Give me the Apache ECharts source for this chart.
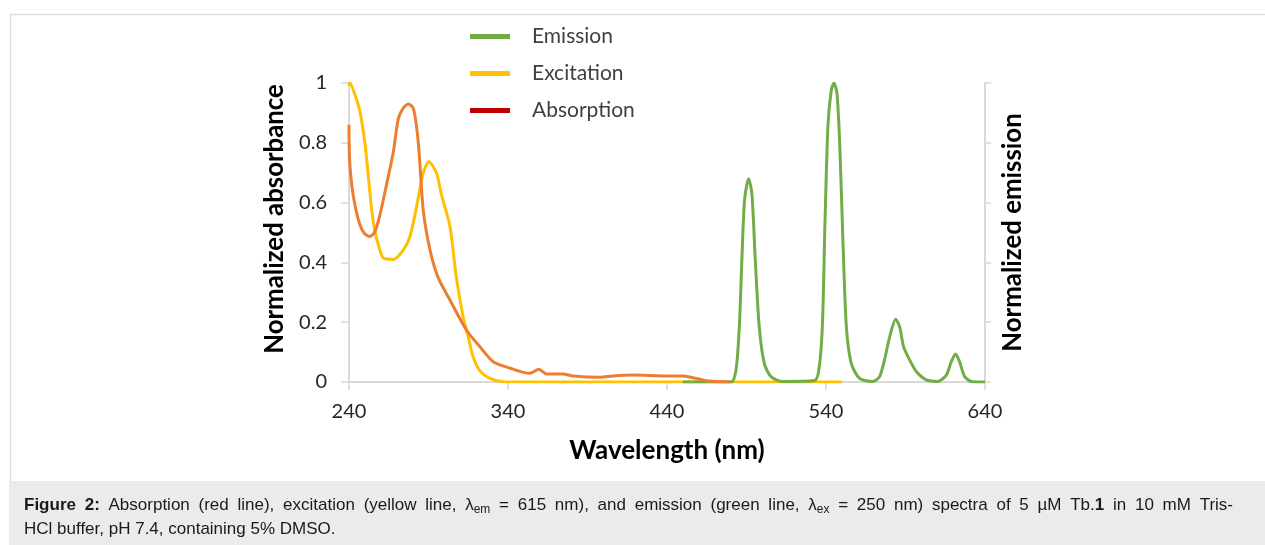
<!DOCTYPE html>
<html>
<head>
<meta charset="utf-8">
<script src="https://cdn.jsdelivr.net/npm/echarts@6/dist/echarts.min.js"></script>
<style>
html,body{margin:0;padding:0;background:#fff;}
#chart{width:1265px;height:545px;}
</style>
</head>
<body>
<div id="chart"></div>
<script>
// ---- Data ----
var xTicks = [240, 340, 440, 540, 640];
var yTicks = [0, 0.2, 0.4, 0.6, 0.8, 1];

var absWl  = [240, 240.3, 241.7, 243.8, 246.9, 250, 253.2, 256.3, 259.5, 263.6, 267.9, 271, 274, 277.3, 280.5, 283.6, 286.7, 291, 296, 303.4, 313.8, 322.3, 330.7, 341.4, 353.6, 359.5, 364, 374.5, 380.8, 397.6, 406, 418.6, 439.5, 450, 458.4, 466.7, 479.3];
var absVal = [0.86, 0.75, 0.66, 0.59, 0.525, 0.495, 0.487, 0.503, 0.56, 0.66, 0.77, 0.88, 0.915, 0.93, 0.915, 0.80, 0.575, 0.44, 0.35, 0.275, 0.174, 0.118, 0.068, 0.046, 0.029, 0.043, 0.027, 0.027, 0.02, 0.016, 0.02, 0.023, 0.02, 0.02, 0.012, 0.003, 0];

var excWl  = [240, 240.6, 243.8, 246.9, 250, 252.1, 254.2, 256.3, 258.5, 261.5, 268, 274, 278.3, 282.5, 286.7, 290.2, 295, 298, 303.5, 307.5, 311.7, 315, 318, 322, 328.5, 337, 400, 480, 550];
var excVal = [0.99, 1.0, 0.96, 0.904, 0.80, 0.69, 0.58, 0.503, 0.458, 0.415, 0.41, 0.44, 0.486, 0.586, 0.70, 0.737, 0.70, 0.63, 0.52, 0.35, 0.22, 0.15, 0.085, 0.04, 0.012, 0.001, 0, 0, 0];

var emWl  = [450, 480.3, 483.4, 485.5, 487.1, 488.8, 491.3, 493.4, 495.5, 498, 501.2, 505.4, 512.7, 532.8, 535.5, 537.7, 539.3, 541.2, 543.3, 545, 546.9, 548.6, 550.7, 552.8, 555.9, 561.1, 569.5, 573.7, 576.8, 580, 583.8, 586.3, 588.8, 592.6, 596.8, 603.1, 610.4, 615.7, 618.8, 621.5, 624, 627.2, 631.3, 640];
var emVal = [0, 0, 0.04, 0.185, 0.41, 0.61, 0.68, 0.63, 0.41, 0.185, 0.062, 0.018, 0.002, 0.005, 0.04, 0.185, 0.52, 0.855, 0.976, 1.0, 0.965, 0.80, 0.464, 0.185, 0.062, 0.012, 0.002, 0.018, 0.074, 0.15, 0.21, 0.185, 0.118, 0.074, 0.035, 0.007, 0.002, 0.023, 0.068, 0.094, 0.068, 0.018, 0.002, 0];

var legendNames = ['Emission', 'Excitation', 'Absorption'];

var captionWords1 = ['{b|Figure}', '{b|2:}', 'Absorption', '(red', 'line),', 'excitation', '(yellow', 'line,', 'λ{s|em}', '=', '615', 'nm),', 'and', 'emission', '(green', 'line,', 'λ{s|ex}', '=', '250', 'nm)', 'spectra', 'of', '5', 'µM', 'Tb.{b|1}', 'in', '10', 'mM', 'Tris-'];
var captionLine2 = 'HCl buffer, pH 7.4, containing 5% DMSO.';

function pairs(xs, ys) { return xs.map(function (x, i) { return [x, ys[i]]; }); }

var FONT = 'Lato, "Open Sans", sans-serif';
var CAP_FAMILY = '"Liberation Sans", Arial, sans-serif';
var CAP_SIZE = 17;
var SUB_SIZE = 12;
var AXIS_GRAY = '#D9D9D9';

// justify first caption line: measure words, spread spaces
var ctx = document.createElement('canvas').getContext('2d');
function fontFor(tag) {
  if (tag === 'b') return 'bold ' + CAP_SIZE + 'px ' + CAP_FAMILY;
  if (tag === 's') return SUB_SIZE + 'px ' + CAP_FAMILY;
  return CAP_SIZE + 'px ' + CAP_FAMILY;
}
function measureWord(w) {
  var re = /\{(\w)\|([^}]*)\}|([^{]+)/g, m, total = 0;
  while ((m = re.exec(w))) {
    ctx.font = fontFor(m[1] ? m[1] : 'n');
    total += ctx.measureText(m[1] ? m[2] : m[3]).width;
  }
  return total;
}
var wordsW = captionWords1.reduce(function (s, w) { return s + measureWord(w); }, 0);
var targetW = 1209;
var spaceW = Math.max(3, (targetW - wordsW) / (captionWords1.length - 1));

var chart = echarts.init(document.getElementById('chart'), null, { renderer: 'canvas' });

var option = {
  backgroundColor: '#fff',
  animation: false,
  grid: { left: 349, right: 280, top: 83, bottom: 163, containLabel: false },
  legend: {
    orient: 'vertical',
    left: 465,
    top: 21,
    itemWidth: 40,
    itemHeight: 5,
    itemGap: 16,
    icon: 'rect',
    textStyle: { fontFamily: FONT, fontSize: 21, color: '#404040', padding: [0, 0, 0, 17] },
    data: [
      { name: legendNames[0], itemStyle: { color: '#70AD47' } },
      { name: legendNames[1], itemStyle: { color: '#FFC000' } },
      { name: legendNames[2], itemStyle: { color: '#C00000' } }
    ]
  },
  xAxis: {
    type: 'value',
    min: xTicks[0], max: xTicks[xTicks.length - 1], interval: 100,
    splitLine: { show: false },
    axisLine: { show: true, lineStyle: { color: AXIS_GRAY, width: 2 } },
    axisTick: { show: true, length: 8, lineStyle: { color: AXIS_GRAY, width: 1.5 } },
    axisLabel: { fontFamily: FONT, fontSize: 20, color: '#262626', margin: 20 },
    name: 'Wavelength (nm)',
    nameLocation: 'middle',
    nameGap: 56,
    nameTextStyle: { fontFamily: FONT, fontSize: 26, fontWeight: 'bold', color: '#000' }
  },
  yAxis: [
    {
      type: 'value',
      min: 0, max: 1, interval: 0.2,
      position: 'left',
      splitLine: { show: false },
      axisLine: { show: true, lineStyle: { color: AXIS_GRAY, width: 2 } },
      axisTick: { show: true, length: 8, lineStyle: { color: AXIS_GRAY, width: 1.5 } },
      axisLabel: {
        fontFamily: FONT, fontSize: 20, color: '#262626', margin: 22,
        formatter: function (v) { return String(Math.round(v * 10) / 10); }
      },
      name: 'Normalized absorbance',
      nameLocation: 'middle',
      nameGap: 61,
      nameRotate: 90,
      nameTextStyle: { fontFamily: FONT, fontSize: 25.8, fontWeight: 'bold', color: '#000', padding: [0, 0, 0, 27] }
    },
    {
      type: 'value',
      min: 0, max: 1, interval: 0.2,
      position: 'right',
      splitLine: { show: false },
      axisLine: { show: true, lineStyle: { color: AXIS_GRAY, width: 2 } },
      axisTick: { show: true, length: 6, lineStyle: { color: AXIS_GRAY, width: 1.5 } },
      axisLabel: { show: false },
      name: 'Normalized emission',
      nameLocation: 'middle',
      nameGap: 15,
      nameRotate: 90,
      nameTextStyle: { fontFamily: FONT, fontSize: 25.8, fontWeight: 'bold', color: '#000' }
    }
  ],
  series: [
    {
      name: legendNames[0], type: 'line', yAxisIndex: 1,
      data: pairs(emWl, emVal), showSymbol: false, smooth: 0.25,
      lineStyle: { color: '#70AD47', width: 3 }, itemStyle: { color: '#70AD47' }, z: 3
    },
    {
      name: legendNames[1], type: 'line', yAxisIndex: 0,
      data: pairs(excWl, excVal), showSymbol: false, smooth: 0.25,
      lineStyle: { color: '#FFC000', width: 3 }, itemStyle: { color: '#FFC000' }, z: 2
    },
    {
      name: legendNames[2], type: 'line', yAxisIndex: 0,
      data: pairs(absWl, absVal), showSymbol: false, smooth: 0.25,
      lineStyle: { color: '#ED7D31', width: 3 }, itemStyle: { color: '#C00000' }, z: 4
    }
  ],
  graphic: [
    { type: 'rect', left: 8, top: 12, z: -10, silent: true,
      shape: { width: 1270, height: 540 },
      style: { fill: 'none', stroke: '#DDDDDD', lineWidth: 1.5 } },
    { type: 'rect', left: 9, top: 481, z: -9, silent: true,
      shape: { width: 1260, height: 70 },
      style: { fill: '#EBEBEB' } },
    { type: 'text', left: 24, top: 497, silent: true,
      style: {
        text: captionWords1.join('{w| }'),
        font: CAP_SIZE + 'px ' + CAP_FAMILY,
        fill: '#1a1a1a',
        rich: {
          b: { fontFamily: CAP_FAMILY, fontSize: CAP_SIZE, fontWeight: 'bold', fill: '#1a1a1a' },
          s: { fontFamily: CAP_FAMILY, fontSize: SUB_SIZE, fill: '#1a1a1a', padding: [9, 0, 0, 0] },
          w: { fontFamily: CAP_FAMILY, fontSize: CAP_SIZE, width: spaceW }
        }
      } },
    { type: 'text', left: 24, top: 521, silent: true,
      style: {
        text: captionLine2,
        font: CAP_SIZE + 'px ' + CAP_FAMILY,
        fill: '#1a1a1a'
      } }
  ]
};

chart.setOption(option);
</script>
</body>
</html>
